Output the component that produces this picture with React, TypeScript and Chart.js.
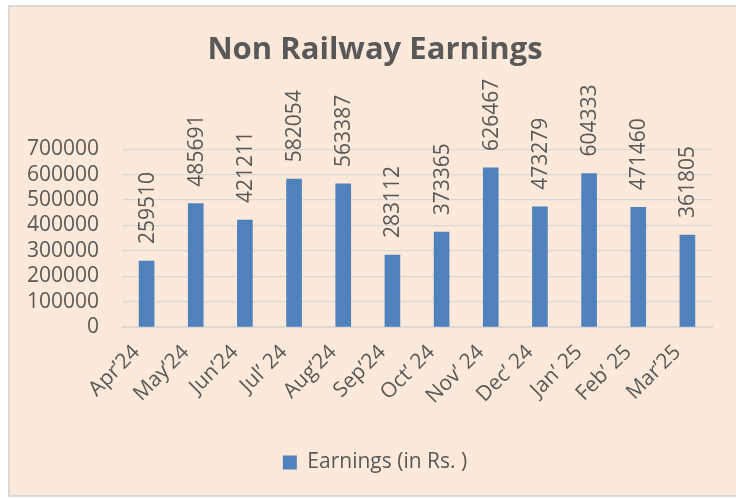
import React, { useEffect, useRef } from "react";
import { Chart, registerables } from "chart.js";

Chart.register(...registerables);

const months = ["Apr’24", "May’24", "Jun’24", "Jul’ 24", "Aug’24", "Sep’24", "Oct’ 24", "Nov’ 24", "Dec’ 24", "Jan’ 25", "Feb’ 25", "Mar’25"];
const earnings = [259510, 485691, 421211, 582054, 563387, 283112, 373365, 626467, 473279, 604333, 471460, 361805];
const seriesName = "Earnings (in Rs. )";
const chartTitle = "Non Railway Earnings";

const FONT = "'Open Sans', sans-serif";
const TEXT = "#595959";
const BAR = "#4F81BD";
const GRID = "#D9D9D9";
const BG = "#FDE9D9";

const backgroundPlugin = {
  id: "bgPlugin",
  beforeDraw(chart: any) {
    const { ctx, width, height } = chart;
    ctx.save();
    ctx.fillStyle = "#ffffff";
    ctx.fillRect(0, 0, width, height);
    ctx.fillStyle = BG;
    ctx.fillRect(9, 5, width - 9, 491);
    ctx.strokeStyle = GRID;
    ctx.lineWidth = 2;
    ctx.beginPath();
    ctx.moveTo(width + 2, 6);
    ctx.lineTo(9, 6);
    ctx.lineTo(9, 496);
    ctx.lineTo(width + 2, 496);
    ctx.stroke();
    ctx.restore();
  },
};

const dataLabelPlugin = {
  id: "dataLabels",
  afterDatasetsDraw(chart: any) {
    const { ctx } = chart;
    const meta = chart.getDatasetMeta(0);
    const values = chart.data.datasets[0].data;
    ctx.save();
    ctx.fillStyle = TEXT;
    ctx.font = `21px ${FONT}`;
    ctx.textAlign = "left";
    ctx.textBaseline = "middle";
    meta.data.forEach((bar: any, i: number) => {
      ctx.save();
      ctx.translate(bar.x, bar.y - 17);
      ctx.rotate(-Math.PI / 2);
      ctx.fillText(String(values[i]), 0, 1);
      ctx.restore();
    });
    ctx.restore();
  },
};

export default function App() {
  const ref = useRef<HTMLCanvasElement>(null);
  useEffect(() => {
    if (!ref.current) return;
    const chart = new Chart(ref.current, {
      type: "bar",
      data: {
        labels: months,
        datasets: [
          {
            label: seriesName,
            data: earnings,
            backgroundColor: BAR,
            barThickness: 15,
          },
        ],
      },
      options: {
        animation: false,
        responsive: true,
        maintainAspectRatio: false,
        layout: { padding: { left: 14, right: 0, top: 0, bottom: 15 } },
        plugins: {
          title: {
            display: true,
            text: chartTitle,
            color: TEXT,
            font: { family: FONT, size: 31, weight: "bold", lineHeight: 1.2 },
            padding: { top: 32, bottom: 80 },
          },
          legend: {
            display: true,
            position: "bottom",
            labels: {
              color: TEXT,
              font: { family: FONT, size: 21 },
              boxWidth: 14,
              boxHeight: 14,
              padding: 10,
            },
          },
          tooltip: { enabled: false },
        },
        scales: {
          x: {
            grid: { display: false, drawTicks: false },
            border: { color: GRID, width: 2 },
            ticks: {
              color: TEXT,
              font: { family: FONT, size: 21 },
              minRotation: 45,
              maxRotation: 45,
              autoSkip: false,
              padding: 13,
              labelOffset: -10,
            },
            afterFit(scale: any) {
              scale.height = 115;
            },
          },
          y: {
            min: 0,
            max: 700000,
            grid: { color: GRID, lineWidth: 1.3, drawTicks: false },
            border: { display: false },
            ticks: {
              stepSize: 100000,
              autoSkip: false,
              color: TEXT,
              font: { family: FONT, size: 21 },
              padding: 23,
              callback: (v: any) => String(v),
            },
            afterFit(scale: any) {
              scale.width = 108;
            },
          },
          yRight: {
            position: "right",
            display: true,
            grid: { display: false, drawTicks: false },
            border: { display: false },
            ticks: { display: false },
            afterFit(scale: any) {
              scale.width = 24;
            },
          },
        },
      },
      plugins: [backgroundPlugin, dataLabelPlugin],
    });
    return () => chart.destroy();
  }, []);
  return (
    <div style={{ position: "fixed", left: 0, top: 0, width: 736, height: 498 }}>
      <canvas ref={ref} />
    </div>
  );
}
